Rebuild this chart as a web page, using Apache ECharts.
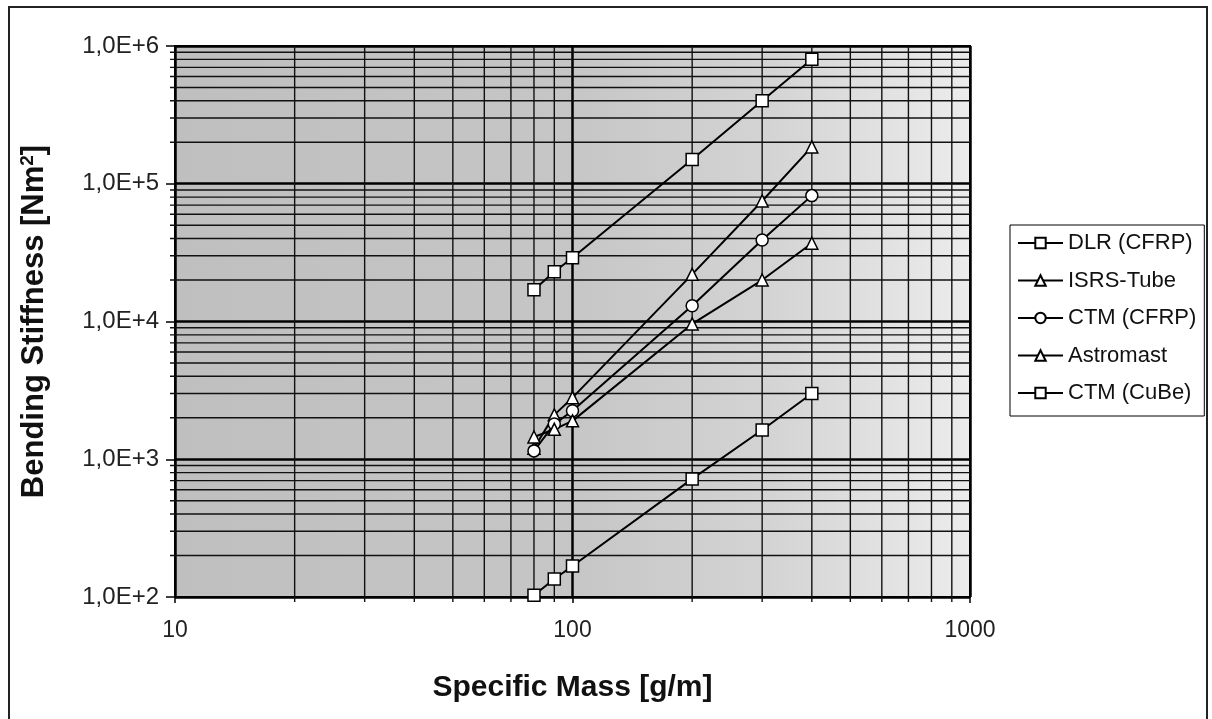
<!DOCTYPE html>
<html>
<head>
<meta charset="utf-8">
<script src="https://cdn.jsdelivr.net/npm/echarts@6/dist/echarts.min.js"></script>
<style>
  html, body { margin: 0; padding: 0; background: #fff; }
  #chart { width: 1212px; height: 719px; }
</style>
</head>
<body>
<div id="chart"></div>
<script>
// specific mass [g/m] shared by all series
const massX = [80, 90, 100, 200, 300, 400]

const dlrCfrp = [17000, 23000, 29000, 150000, 400000, 800000]
const isrsTube = [1200, 2100, 2800, 22000, 75000, 185000]
const ctmCfrp = [1150, 1800, 2250, 13000, 39000, 82000]
const astromast = [1450, 1650, 1900, 9600, 20000, 37000]
const ctmCube = [103, 135, 168, 720, 1630, 3000]

const xTickLabels = { 10: '10', 100: '100', 1000: '1000' }
const yTickLabels = { 100: '1,0E+2', 1000: '1,0E+3', 10000: '1,0E+4', 100000: '1,0E+5', 1000000: '1,0E+6' }

// minor log grid positions (2..9 of each decade)
const xMinor = []
for (const d of [10, 100]) for (let k = 2; k <= 9; k++) xMinor.push(d * k)
const yMinor = []
for (const d of [100, 1000, 10000, 100000]) for (let k = 2; k <= 9; k++) yMinor.push(d * k)

const chart = echarts.init(document.getElementById('chart'))

const font = 'Liberation Sans, Arial, sans-serif'

const makeSeries = (name, data, symbol, size) => ({
  name,
  type: 'line',
  data: massX.map((x, i) => [x, data[i]]),
  symbol,
  symbolSize: size,
  showAllSymbol: true,
  lineStyle: { color: '#000', width: 2 },
  itemStyle: { color: '#fff', borderColor: '#000', borderWidth: 1.5 },
  z: 5
})

const minorStyle = { stroke: '#111', lineWidth: 1.4 }

chart.setOption({
  animation: false,
  graphic: [{
    type: 'rect',
    shape: { x: 9, y: 7, width: 1198, height: 730 },
    style: { fill: 'none', stroke: '#222', lineWidth: 2 },
    silent: true
  }],
  grid: {
    left: 175,
    right: 242,
    top: 46,
    bottom: 122,
    show: true,
    borderColor: '#000',
    borderWidth: 2,
    backgroundColor: new echarts.graphic.LinearGradient(0, 0, 1, 0, [
      { offset: 0, color: '#bfbfbf' },
      { offset: 0.5, color: '#c6c6c6' },
      { offset: 0.75, color: '#d4d4d4' },
      { offset: 1, color: '#ececec' }
    ])
  },
  legend: {
    orient: 'vertical',
    left: 1010,
    top: 225,
    padding: [7, 8, 12, 7],
    itemGap: 15.5,
    itemWidth: 45,
    itemHeight: 13,
    backgroundColor: '#fff',
    borderColor: '#000',
    borderWidth: 1,
    data: ['DLR (CFRP)', 'ISRS-Tube', 'CTM (CFRP)', 'Astromast', 'CTM (CuBe)'],
    textStyle: { fontFamily: font, fontSize: 22, lineHeight: 22, color: '#111' }
  },
  xAxis: {
    type: 'log',
    logBase: 10,
    min: 10,
    max: 1000,
    name: 'Specific Mass [g/m]',
    nameLocation: 'middle',
    nameGap: 76,
    nameTextStyle: { fontFamily: font, fontSize: 30, fontWeight: 'bold', color: '#111' },
    axisLine: { show: true, lineStyle: { color: '#000', width: 2 } },
    axisTick: { show: true, length: 6, lineStyle: { color: '#000', width: 1.5 } },
    axisLabel: {
      margin: 22,
      fontFamily: font,
      fontSize: 23,
      color: '#222',
      formatter: v => xTickLabels[Math.round(v)] || ''
    },
    splitLine: { show: true, lineStyle: { color: '#000', width: 2.5 } }
  },
  yAxis: {
    type: 'log',
    logBase: 10,
    min: 100,
    max: 1000000,
    name: 'Bending Stiffness [Nm{sup|2}]',
    nameLocation: 'middle',
    nameGap: 124,
    nameTextStyle: {
      fontFamily: font, fontSize: 31, fontWeight: 'bold', color: '#111',
      rich: {
        sup: { fontFamily: font, fontSize: 19, fontWeight: 'bold', color: '#111', verticalAlign: 'top', padding: [0, 0, 14, 0] }
      }
    },
    axisLine: { show: true, lineStyle: { color: '#000', width: 2 } },
    axisTick: { show: true, length: 9, lineStyle: { color: '#000', width: 1.5 } },
    axisLabel: {
      margin: 16,
      fontFamily: font,
      fontSize: 24,
      color: '#222',
      formatter: v => yTickLabels[Math.round(v)] || ''
    },
    splitLine: { show: true, lineStyle: { color: '#000', width: 2.5 } }
  },
  series: [
    {
      name: 'yMinor',
      type: 'custom',
      silent: true,
      clip: false,
      z: 1,
      data: yMinor.map(v => [10, v]),
      renderItem: (params, api) => {
        const v = api.value(1)
        const p0 = api.coord([10, v])
        const p1 = api.coord([1000, v])
        return {
          type: 'line',
          shape: { x1: p0[0] - 5, y1: p0[1], x2: p1[0], y2: p1[1] },
          style: minorStyle
        }
      }
    },
    {
      name: 'xMinor',
      type: 'custom',
      silent: true,
      clip: false,
      z: 1,
      data: xMinor.map(v => [v, 100]),
      renderItem: (params, api) => {
        const v = api.value(0)
        const p0 = api.coord([v, 100])
        const p1 = api.coord([v, 1000000])
        return {
          type: 'line',
          shape: { x1: p0[0], y1: p0[1] + 5, x2: p1[0], y2: p1[1] },
          style: minorStyle
        }
      }
    },
    makeSeries('DLR (CFRP)', dlrCfrp, 'rect', 12),
    makeSeries('ISRS-Tube', isrsTube, 'triangle', 12),
    makeSeries('CTM (CFRP)', ctmCfrp, 'circle', 12),
    makeSeries('Astromast', astromast, 'triangle', 12),
    makeSeries('CTM (CuBe)', ctmCube, 'rect', 12)
  ]
})
</script>
</body>
</html>
